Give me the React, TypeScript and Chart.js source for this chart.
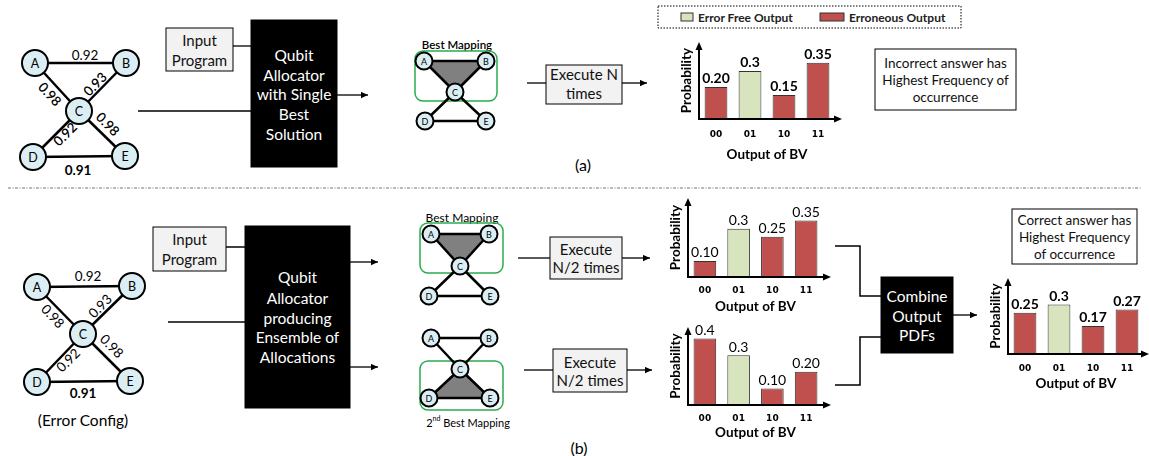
import React, { useEffect, useRef } from "react";
import { Chart, registerables } from "chart.js";
Chart.register(...registerables);

// ---------- data ----------
const categories = ["00", "01", "10", "11"];
const outcomeKinds = ["error", "free", "error", "error"];
const legendLabels = ["Error Free Output", "Erroneous Output"];

const singleValues = [0.2, 0.3, 0.15, 0.35];
const singleLabels = ["0.20", "0.3", "0.15", "0.35"];
const bestValues = [0.1, 0.3, 0.25, 0.35];
const bestLabels = ["0.10", "0.3", "0.25", "0.35"];
const secondValues = [0.4, 0.3, 0.1, 0.2];
const secondLabels = ["0.4", "0.3", "0.10", "0.20"];
const combinedValues = [0.25, 0.3, 0.17, 0.27];
const combinedLabels = ["0.25", "0.3", "0.17", "0.27"];

const edgeFidelity = ["0.92", "0.98", "0.93", "0.92", "0.98", "0.91"]; // AB, AC, BC, CD, CE, DE

const GREEN = "#d7e4bd";
const RED = "#c0504d";
const FONT = "Lato, 'Open Sans', sans-serif";

// ---------- bar chart ----------
type BarProps = {
  left: number; top: number; width: number; height: number;
  values: number[]; labels: string[]; ymax: number; labelWeight: string;
  tickOff: number; titleOff: number; arrowExtra: number;
};

function BarChart(p: BarProps) {
  const ref = useRef<HTMLCanvasElement>(null);
  const padL = 32, padR = 14, padT = 20, padB = 44;
  useEffect(() => {
    const decor = {
      id: "decor",
      afterDatasetsDraw(chart: any) {
        const { ctx, chartArea } = chart;
        const { left, right, top, bottom } = chartArea;
        const xs = chart.scales.x;
        ctx.save();
        ctx.fillStyle = "#000";
        ctx.strokeStyle = "#000";
        // value labels
        const meta = chart.getDatasetMeta(0);
        ctx.font = `${p.labelWeight} 14px ${FONT}`;
        ctx.textAlign = "center";
        ctx.textBaseline = "bottom";
        meta.data.forEach((bar: any, i: number) => {
          ctx.fillText(p.labels[i], bar.x, bar.y - 1);
        });
        // axes with arrows
        ctx.lineWidth = 2;
        const ax = right + p.arrowExtra;
        ctx.beginPath();
        ctx.moveTo(left, bottom);
        ctx.lineTo(left, top + 6);
        ctx.moveTo(left - 1, bottom);
        ctx.lineTo(ax - 6, bottom);
        ctx.stroke();
        ctx.beginPath();
        ctx.moveTo(left, top);
        ctx.lineTo(left - 3.5, top + 8);
        ctx.lineTo(left + 3.5, top + 8);
        ctx.closePath();
        ctx.fill();
        ctx.beginPath();
        ctx.moveTo(ax, bottom);
        ctx.lineTo(ax - 8, bottom - 3.5);
        ctx.lineTo(ax - 8, bottom + 3.5);
        ctx.closePath();
        ctx.fill();
        // ticks
        ctx.font = "bold 9px 'DejaVu Sans', sans-serif";
        ctx.textBaseline = "middle";
        categories.forEach((c, i) => {
          ctx.fillText(c, xs.getPixelForValue(i), bottom + p.tickOff);
        });
        // titles
        ctx.font = `bold 13.5px ${FONT}`;
        ctx.fillText("Output of BV", (left + right) / 2, bottom + p.titleOff);
        ctx.translate(left - 12, (top + bottom) / 2);
        ctx.rotate(-Math.PI / 2);
        ctx.fillText("Probability", 0, 0);
        ctx.restore();
      },
    };
    const chart = new Chart(ref.current as HTMLCanvasElement, {
      type: "bar",
      data: {
        labels: categories,
        datasets: [
          {
            data: p.values,
            backgroundColor: outcomeKinds.map((k) => (k === "free" ? GREEN : RED)),
            borderColor: "#333",
            borderWidth: 1,
            barPercentage: 0.67,
            categoryPercentage: 1,
          },
        ],
      },
      options: {
        animation: false,
        responsive: false,
        maintainAspectRatio: false,
        events: [],
        layout: { padding: { left: padL, right: padR, top: padT, bottom: padB } },
        plugins: { legend: { display: false }, tooltip: { enabled: false } },
        scales: {
          x: { display: false },
          y: { display: false, min: 0, max: p.ymax },
        },
      },
      plugins: [decor],
    } as any);
    return () => chart.destroy();
  }, []);
  const w = p.width + padL + padR;
  const h = p.height + padT + padB;
  return (
    <canvas
      ref={ref}
      width={w}
      height={h}
      style={{ position: "absolute", left: p.left - padL, top: p.top - padT, width: w, height: h }}
    />
  );
}

// ---------- diagram helpers ----------
type Pt = [number, number];
type Nodes = { A: Pt; B: Pt; C: Pt; D: Pt; E: Pt };
const EDGES: [keyof Nodes, keyof Nodes][] = [
  ["A", "B"], ["A", "C"], ["B", "C"], ["C", "D"], ["C", "E"], ["D", "E"],
];

function Node({ p, r, name, fs }: { p: Pt; r: number; name: string; fs: number }) {
  return (
    <g>
      <circle cx={p[0]} cy={p[1]} r={r} fill="#dbeef4" stroke="#000" strokeWidth={2} />
      <text x={p[0]} y={p[1] + 0.5} fontSize={fs} textAnchor="middle" dominantBaseline="central" fill="#000">
        {name}
      </text>
    </g>
  );
}

type EL = { x: number; y: number; rot: number; weight: number };
function Graph({ nodes, labels }: { nodes: Nodes; labels: EL[] }) {
  return (
    <g>
      {EDGES.map(([a, b], i) => (
        <line key={i} x1={nodes[a][0]} y1={nodes[a][1]} x2={nodes[b][0]} y2={nodes[b][1]} stroke="#000" strokeWidth={2.5} />
      ))}
      {(Object.keys(nodes) as (keyof Nodes)[]).map((k) => (
        <Node key={k} p={nodes[k]} r={13} name={k} fs={12.5} />
      ))}
      {labels.map((l, i) => (
        <text
          key={i}
          x={l.x}
          y={l.y}
          fontSize={13.5}
          fontWeight={l.weight}
          textAnchor="middle"
          dominantBaseline="central"
          transform={`rotate(${l.rot} ${l.x} ${l.y})`}
        >
          {edgeFidelity[i]}
        </text>
      ))}
    </g>
  );
}

function Mapping({ nodes, rect, tri }: { nodes: Nodes; rect: [number, number, number, number]; tri: (keyof Nodes)[] }) {
  return (
    <g>
      <rect x={rect[0]} y={rect[1]} width={rect[2]} height={rect[3]} rx={8} fill="none" stroke="#2bac4f" strokeWidth={1.5} />
      <polygon points={tri.map((k) => nodes[k].join(",")).join(" ")} fill="#808080" />
      {EDGES.map(([a, b], i) => (
        <line key={i} x1={nodes[a][0]} y1={nodes[a][1]} x2={nodes[b][0]} y2={nodes[b][1]} stroke="#000" strokeWidth={2.5} />
      ))}
      {(Object.keys(nodes) as (keyof Nodes)[]).map((k) => (
        <Node key={k} p={nodes[k]} r={8.5} name={k} fs={9} />
      ))}
    </g>
  );
}

function Box({ x, y, w, h, lines, ys, dark, fs }: { x: number; y: number; w: number; h: number; lines: string[]; ys: number[]; dark?: boolean; fs: number }) {
  return (
    <g>
      <rect x={x} y={y} width={w} height={h} fill={dark ? "#000" : "#f2f2f2"} stroke="#000" strokeWidth={1} />
      {lines.map((t, i) => (
        <text key={i} x={x + w / 2} y={ys[i]} fontSize={fs} textAnchor="middle" dominantBaseline="central" fill={dark ? "#fff" : "#111"}>
          {t}
        </text>
      ))}
    </g>
  );
}

function TextBox({ x, y, w, h, lines, ys }: { x: number; y: number; w: number; h: number; lines: string[]; ys: number[] }) {
  return (
    <g>
      <rect x={x} y={y} width={w} height={h} fill="#fff" stroke="#000" strokeWidth={1} />
      {lines.map((t, i) => (
        <text key={i} x={x + w / 2} y={ys[i]} fontSize={13.5} textAnchor="middle" dominantBaseline="central" fill="#111">
          {t}
        </text>
      ))}
    </g>
  );
}

function Arrow({ x1, y1, x2, y2, head = true }: { x1: number; y1: number; x2: number; y2: number; head?: boolean }) {
  return (
    <line x1={x1} y1={y1} x2={x2} y2={y2} stroke="#000" strokeWidth={1.3} markerEnd={head ? "url(#ah)" : undefined} />
  );
}

const topGraph: Nodes = { A: [35, 63], B: [126, 63], C: [79, 111], D: [33, 157], E: [125, 156] };
const topGraphLabels: EL[] = [
  { x: 85, y: 55, rot: 0, weight: 400 },
  { x: 50, y: 94, rot: 47, weight: 600 },
  { x: 95, y: 84, rot: -46, weight: 600 },
  { x: 65, y: 134, rot: -45, weight: 600 },
  { x: 108, y: 124, rot: 45, weight: 600 },
  { x: 78, y: 170, rot: 0, weight: 700 },
];
const botGraph: Nodes = { A: [37, 287], B: [132, 286], C: [83, 334], D: [37, 382], E: [130, 381] };
const botGraphLabels: EL[] = [
  { x: 88, y: 276, rot: 0, weight: 400 },
  { x: 53, y: 316, rot: 47, weight: 400 },
  { x: 100, y: 306, rot: -46, weight: 400 },
  { x: 68, y: 360, rot: -45, weight: 400 },
  { x: 112, y: 346, rot: 45, weight: 400 },
  { x: 83, y: 393, rot: 0, weight: 700 },
];

export default function App() {
  return (
    <div style={{ position: "absolute", left: 0, top: 0, width: 1149, height: 456, overflow: "hidden", background: "#fff", fontFamily: FONT }}>
      <svg width={1149} height={456} style={{ position: "absolute", left: 0, top: 0 }} fontFamily={FONT}>
        <defs>
          <marker id="ah" viewBox="0 0 10 10" refX="10" refY="5" markerWidth="8" markerHeight="7" markerUnits="userSpaceOnUse" orient="auto">
            <path d="M0,0.5 L10,5 L0,9.5 z" fill="#000" />
          </marker>
        </defs>

        {/* ===== (a) ===== */}
        <Graph nodes={topGraph} labels={topGraphLabels} />
        <Arrow x1={138} y1={111} x2={262} y2={111} />
        <Box x={166} y={28} w={67} h={43} lines={["Input", "Program"]} ys={[40, 60]} fs={15} />
        <Arrow x1={233} y1={46} x2={262} y2={46} />
        <Box x={251} y={20} w={86} h={147} dark lines={["Qubit", "Allocator", "with Single", "Best", "Solution"]} ys={[55, 75, 94, 114, 134]} fs={15.5} />
        <Arrow x1={337} y1={95} x2={368} y2={95} />

        <text x={457} y={44} fontSize={11.5} fontWeight={600} textAnchor="middle" dominantBaseline="central">Best Mapping</text>
        <Mapping nodes={{ A: [424, 61], B: [486, 61], C: [455, 92], D: [425, 121], E: [486, 121] }} rect={[415, 51, 82, 50]} tri={["A", "B", "C"]} />
        <Arrow x1={527} y1={83} x2={546} y2={83} head={false} />
        <Box x={546} y={65} w={76} h={39} lines={["Execute N", "times"]} ys={[74, 93]} fs={15} />
        <Arrow x1={622} y1={83} x2={647} y2={83} />
        <text x={583} y={164} fontSize={16} textAnchor="middle" dominantBaseline="central">(a)</text>

        {/* legend */}
        <rect x={658} y={6} width={303} height={22} fill="none" stroke="#000" strokeWidth={1} strokeDasharray="1.5 1.5" />
        <rect x={681} y={13} width={12} height={8} fill={GREEN} stroke="#333" strokeWidth={1} />
        <text x={698} y={17} fontSize={12} fontWeight={700} dominantBaseline="central" fill="#222">{legendLabels[0]}</text>
        <rect x={820} y={13} width={24} height={8} fill={RED} stroke="#333" strokeWidth={1} />
        <text x={849} y={17} fontSize={12} fontWeight={700} dominantBaseline="central" fill="#222">{legendLabels[1]}</text>

        <TextBox x={875} y={49} w={141} h={61} lines={["Incorrect answer has", "Highest Frequency of", "occurrence"]} ys={[63, 80, 97]} />

        {/* separator */}
        <line x1={8} y1={188} x2={1141} y2={188} stroke="#777" strokeWidth={1} strokeDasharray="3 1.5 1 1.5" />

        {/* ===== (b) ===== */}
        <Graph nodes={botGraph} labels={botGraphLabels} />
        <text x={83} y={420} fontSize={15.5} textAnchor="middle" dominantBaseline="central">(Error Config)</text>
        <Box x={153} y={227} w={73} h={44} lines={["Input", "Program"]} ys={[239, 259]} fs={15} />
        <Arrow x1={226} y1={247} x2={263} y2={247} />
        <Arrow x1={168} y1={322} x2={260} y2={322} />
        <Box x={245} y={226} w={105} h={182} dark lines={["Qubit", "Allocator", "producing", "Ensemble of", "Allocations"]} ys={[277, 298, 318, 337, 357]} fs={15.5} />
        <Arrow x1={350} y1={262} x2={378} y2={262} />
        <Arrow x1={350} y1={367} x2={378} y2={367} />

        <text x={462} y={217} fontSize={12} textAnchor="middle" dominantBaseline="central">Best Mapping</text>
        <Mapping nodes={{ A: [431, 234], B: [489, 234], C: [460, 266], D: [429, 296], E: [490, 296] }} rect={[420, 223, 83, 50]} tri={["A", "B", "C"]} />
        <Mapping nodes={{ A: [431, 338], B: [489, 338], C: [460, 369], D: [429, 398], E: [490, 398] }} rect={[420, 361, 83, 49]} tri={["C", "D", "E"]} />
        <text x={468} y={422} fontSize={11} textAnchor="middle" dominantBaseline="central">
          2<tspan fontSize={7} dy={-4}>nd</tspan><tspan dy={4}> Best Mapping</tspan>
        </text>

        <Arrow x1={518} y1={258} x2={550} y2={258} head={false} />
        <Box x={550} y={237} w={72} h={42} lines={["Execute", "N/2 times"]} ys={[249, 267]} fs={15} />
        <Arrow x1={622} y1={258} x2={650} y2={258} />
        <Arrow x1={524} y1={370} x2={553} y2={370} head={false} />
        <Box x={553} y={349} w={74} h={43} lines={["Execute", "N/2 times"]} ys={[362, 380]} fs={15} />
        <Arrow x1={627} y1={370} x2={652} y2={370} />
        <text x={579} y={447} fontSize={16} textAnchor="middle" dominantBaseline="central">(b)</text>

        <polyline points="835,246 860,246 860,296 881,296" fill="none" stroke="#000" strokeWidth={1.5} />
        <polyline points="835,385 860,385 860,337 881,337" fill="none" stroke="#000" strokeWidth={1.5} />
        <Box x={881} y={277} w={72} h={76} dark lines={["Combine", "Output", "PDFs"]} ys={[296, 316, 335]} fs={15.5} />
        <Arrow x1={953} y1={315} x2={977} y2={315} />
        <TextBox x={1012} y={209} w={125} h={55} lines={["Correct answer has", "Highest Frequency", "of occurrence"]} ys={[220, 237, 254]} />
      </svg>

      <BarChart left={699} top={42} width={136} height={77} values={singleValues} labels={singleLabels} ymax={0.48} labelWeight="bold" tickOff={16} titleOff={36} arrowExtra={7} />
      <BarChart left={688} top={198} width={135} height={79} values={bestValues} labels={bestLabels} ymax={0.49} labelWeight="normal" tickOff={14} titleOff={30} arrowExtra={8} />
      <BarChart left={688} top={327} width={135} height={78} values={secondValues} labels={secondLabels} ymax={0.47} labelWeight="normal" tickOff={14} titleOff={28} arrowExtra={8} />
      <BarChart left={1008} top={278} width={136} height={76} values={combinedValues} labels={combinedLabels} ymax={0.46} labelWeight="bold" tickOff={15} titleOff={30} arrowExtra={5} />
    </div>
  );
}
